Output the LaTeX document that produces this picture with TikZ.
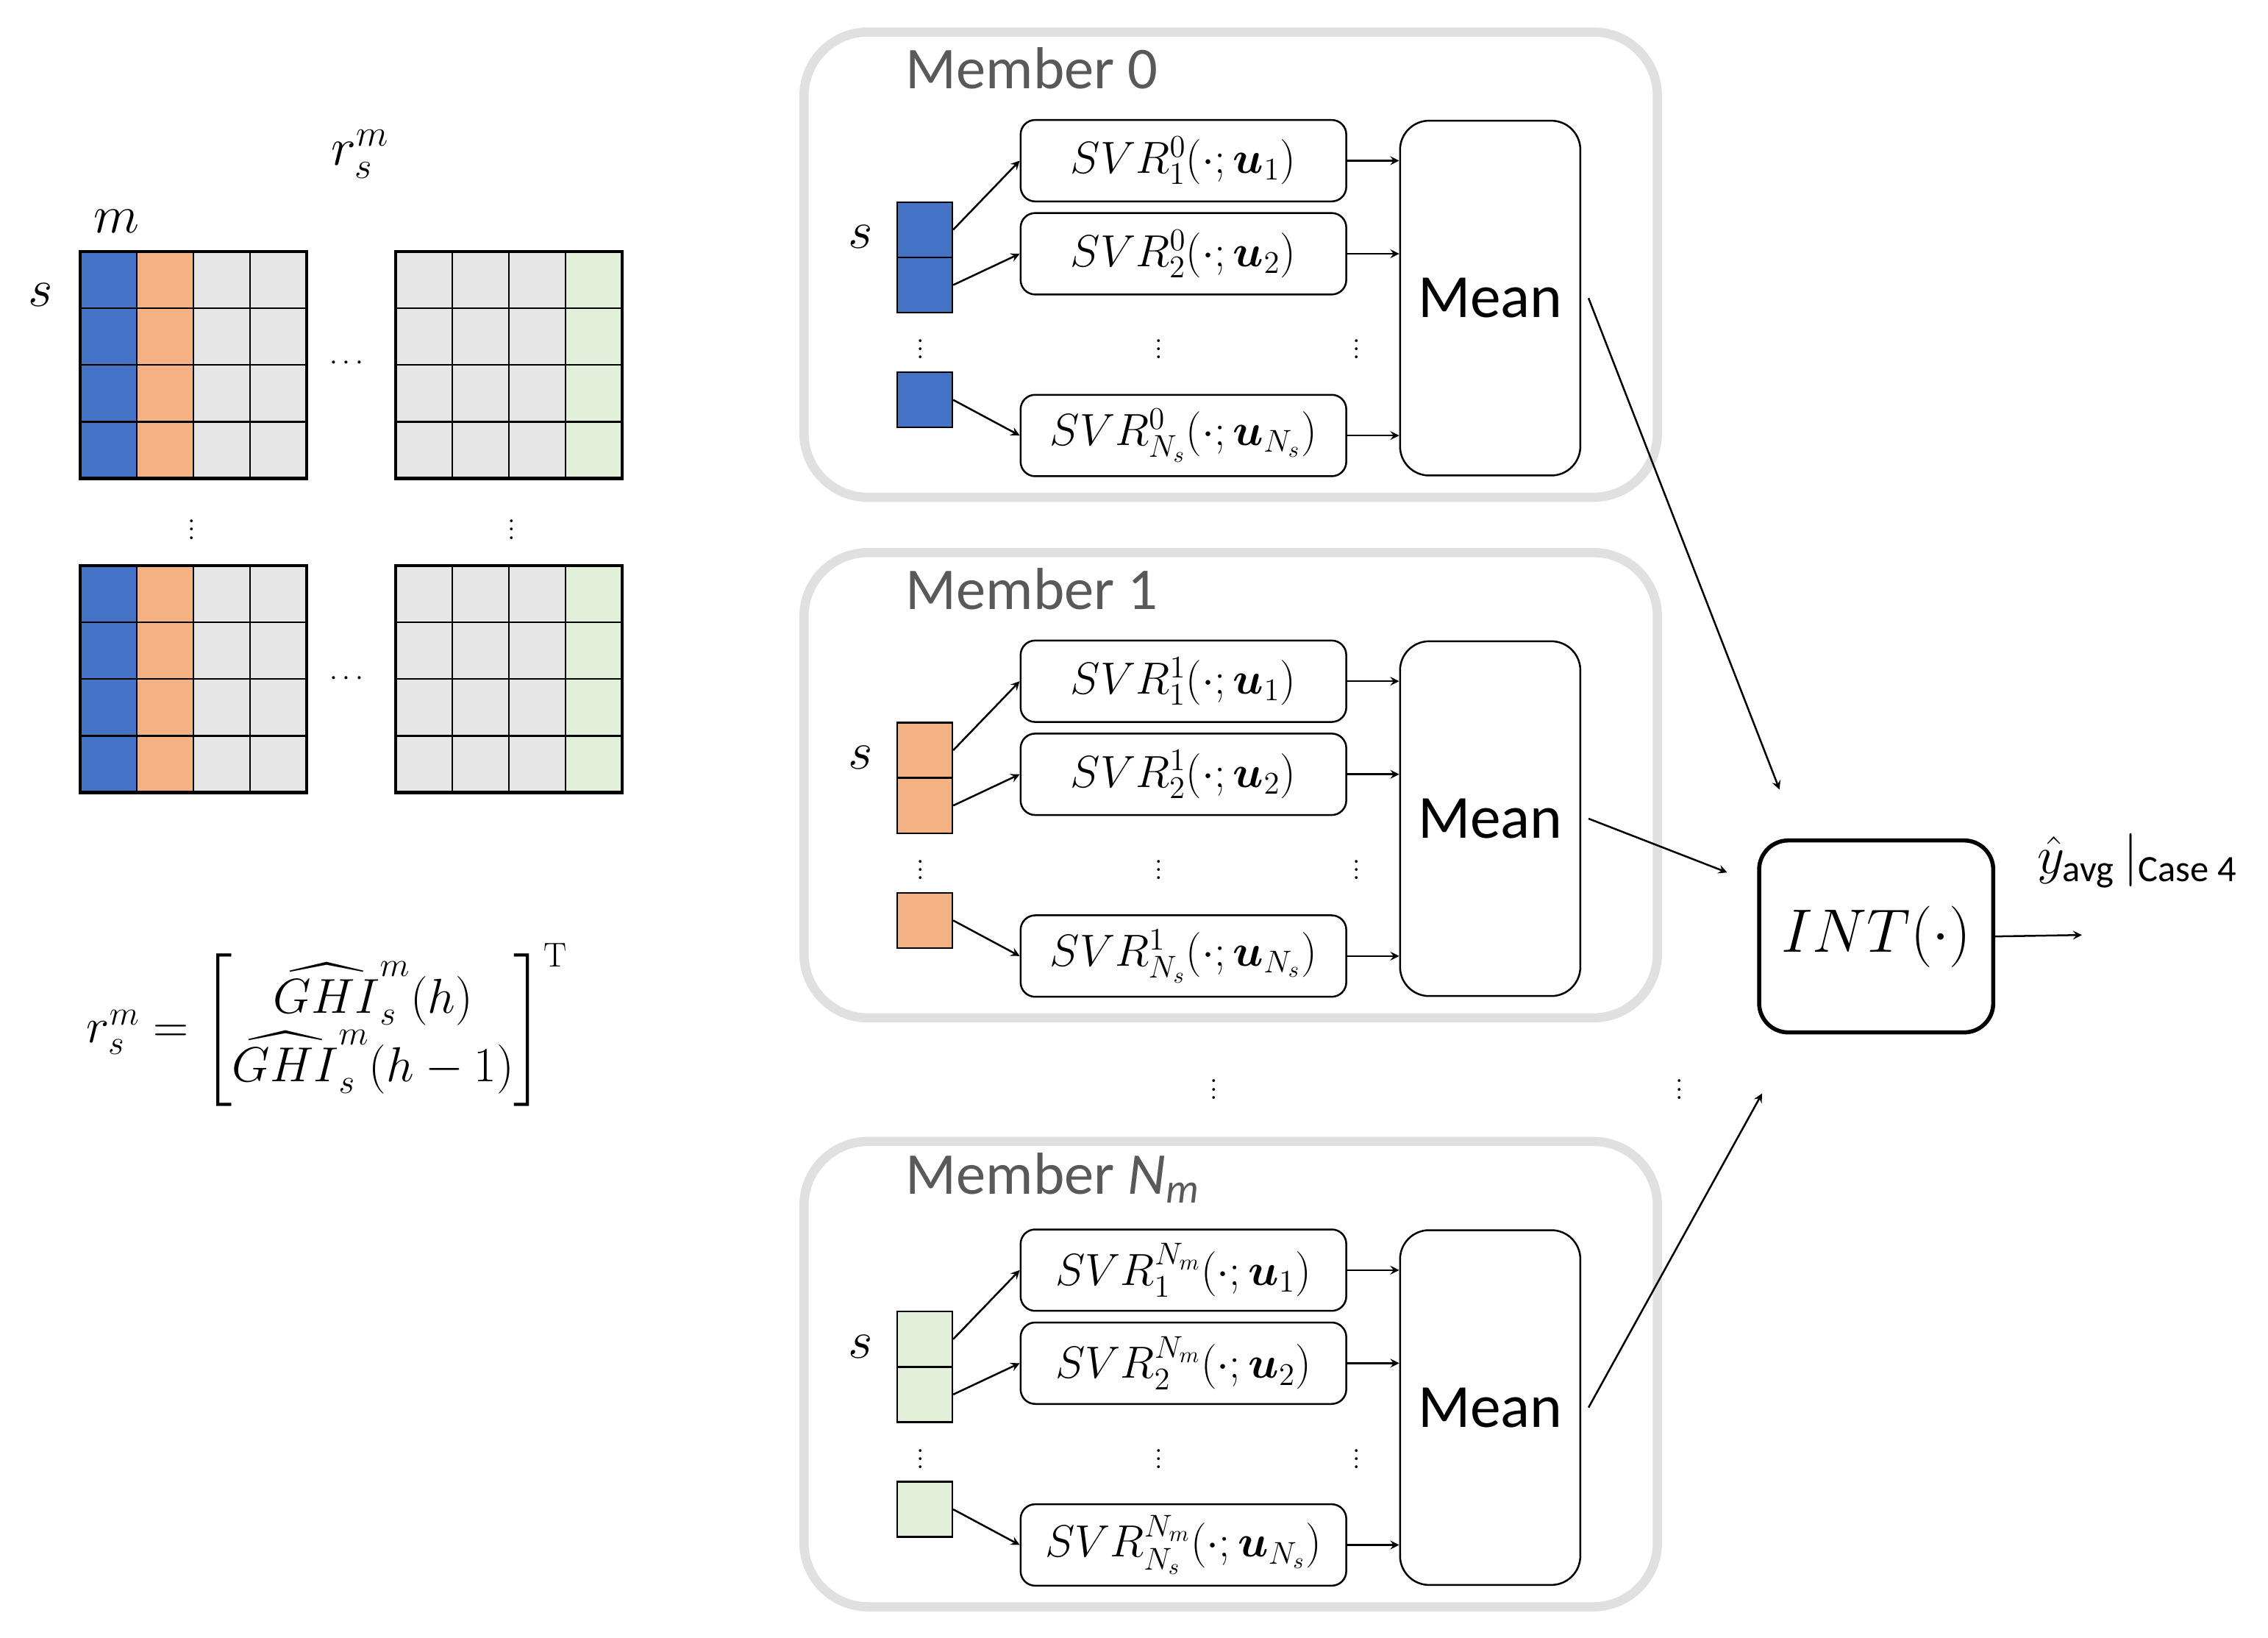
\documentclass[tikz,border=0pt]{standalone}
\usepackage{fix-cm}
\usepackage{amsmath}
\usepackage{fontspec}
\newfontfamily\carl{Carlito}
\definecolor{cblue}{HTML}{4472C4}
\definecolor{corange}{HTML}{F4B183}
\definecolor{cgray}{HTML}{E7E6E6}
\definecolor{cgreen}{HTML}{E2F0D9}
\definecolor{cframe}{HTML}{E0E0E0}
\definecolor{ctitle}{HTML}{595959}
\begin{document}
\begin{tikzpicture}[x=0.25mm,y=-0.25mm,
  ln/.style={line width=0.9pt},
  arr/.style={ln,-stealth},
  member/.style={line width=4.5pt,draw=cframe,rounded corners=11mm},
  sq/.style={draw,ln,minimum width=9.5mm,minimum height=9.5mm,inner sep=0pt},
  svr/.style={draw,ln,rounded corners=2.5mm,minimum width=56mm,minimum height=14mm,inner sep=0pt,font=\fontsize{22}{26}\selectfont},
  mean/.style={draw,ln,rounded corners=5mm,minimum width=31mm,minimum height=61mm,font=\carl\fontsize{30}{34}\selectfont},
  ttl/.style={text=ctitle,font=\carl\fontsize{29}{33}\selectfont},
  lab/.style={font=\fontsize{26}{30}\selectfont},
  dt/.style={font=\fontsize{14}{16}\selectfont,inner sep=0pt}]
\useasboundingbox (0,0) rectangle (1560,1126);
% grids
\foreach \gx/\gy in {55/173,55/389}{
  \fill[cgray] (\gx,\gy) rectangle ++(156,156);
  \fill[cblue] (\gx,\gy) rectangle ++(39,156);
  \fill[corange] (\gx+39,\gy) rectangle ++(39,156);
}
\foreach \gx/\gy in {272/173,272/389}{
  \fill[cgray] (\gx,\gy) rectangle ++(156,156);
  \fill[cgreen] (\gx+117,\gy) rectangle ++(39,156);
}
\foreach \gx/\gy in {55/173,55/389,272/173,272/389}{
  \foreach \k in {1,2,3}{
    \draw[ln] (\gx+39*\k,\gy) -- ++(0,156);
    \draw[ln] (\gx,\gy+39*\k) -- ++(156,0);
  }
  \draw[line width=1.6pt] (\gx,\gy) rectangle ++(156,156);
}
\node[dt] (g1) at (240,250) {$\cdots$};
\node[dt] (g2) at (240,467) {$\cdots$};
\node[dt] (g3) at (132,360) {$\vdots$};
\node[dt] (g4) at (352,360) {$\vdots$};
\node[lab] (lm) at (80,152) {$m$};
\node[lab] (ls) at (28,203) {$s$};
\node[lab] (lr) at (248,106) {$r_s^m$};
\node[lab,font=\fontsize{24}{28}\selectfont] (form) at (225,705) {$r_s^m=\begin{bmatrix}\widehat{GHI}_s^m(h)\\ \widehat{GHI}_s^m(h-1)\end{bmatrix}^{\mathrm{T}}$};
% INT
\node[draw,line width=2pt,rounded corners=5mm,minimum width=40.25mm,minimum height=33mm,font=\fontsize{30}{34}\selectfont] (int) at (1290.5,644) {$INT(\cdot)$};
\coordinate (out) at (1432,643);
\draw[arr] (int.east) -- (out);
\node[font=\fontsize{26}{30}\selectfont,anchor=center] (y) at (1470,592) {$\hat{y}_{\text{\carl avg}}\,|_{\text{\carl Case 4}}$};
\coordinate (e0) at (1224,543);
\coordinate (e358) at (1188,600);
\coordinate (e763) at (1212,752);
\node[dt] (d1) at (835,745) {$\vdots$};
\node[dt] (d2) at (1155,745) {$\vdots$};
% members
\foreach \dy/\su/\ttext/\sqc in {0/0/{Member 0}/cblue,358/1/{Member 1}/corange,763/{N_m}/{Member \textit{N}\textsubscript{\textit{m}}}/cgreen}{
  \begin{scope}[shift={(0,\dy)}]
  \draw[member] (553,22) rectangle (1140,342);
  \node[ttl,anchor=west] (t\dy) at (618,47) {\ttext};
  \node[lab] (s\dy) at (592,163) {$s$};
  \node[sq,fill=\sqc] (qa\dy) at (636,158) {};
  \node[sq,fill=\sqc] (qb\dy) at (636,196) {};
  \node[sq,fill=\sqc] (qc\dy) at (636,275) {};
  \node[svr] (a\dy) at (814,110.5) {$SVR_1^{\su}(\cdot;\boldsymbol{u}_1)$};
  \node[svr] (b\dy) at (814,174.5) {$SVR_2^{\su}(\cdot;\boldsymbol{u}_2)$};
  \node[svr] (c\dy) at (814,299.5) {$SVR_{N_s}^{\su}\!\left(\cdot;\boldsymbol{u}_{N_s}\right)$};
  \node[mean] (m\dy) at (1025,205) {Mean};
  \node[dt] (v1\dy) at (633,236) {$\vdots$};
  \node[dt] (v2\dy) at (797,236) {$\vdots$};
  \node[dt] (v3\dy) at (933,236) {$\vdots$};
  \draw[arr] (qa\dy.east) -- (a\dy.west);
  \draw[arr] (qb\dy.east) -- (b\dy.west);
  \draw[arr] (qc\dy.east) -- (c\dy.west);
  \draw[arr] (a\dy.east) -- (m\dy.west |- a\dy.east);
  \draw[arr] (b\dy.east) -- (m\dy.west |- b\dy.east);
  \draw[arr] (c\dy.east) -- (m\dy.west |- c\dy.east);
  \end{scope}
  \draw[arr] ([xshift=1.25mm]m\dy.east) -- (e\dy);
}
\end{tikzpicture}
\end{document}
